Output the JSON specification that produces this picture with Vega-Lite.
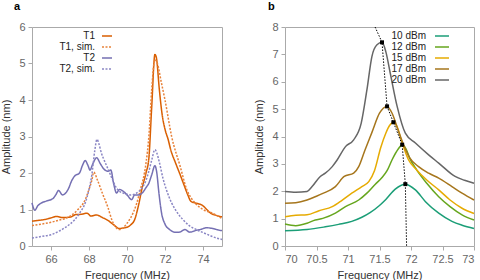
{
  "$schema": "https://vega.github.io/schema/vega-lite/v6.json",
  "padding": {"left": 0, "top": 0, "right": 0, "bottom": 0},
  "spacing": 27,
  "resolve": {"scale": {"color": "independent", "strokeDash": "independent"}, "legend": {"color": "independent", "strokeDash": "independent"}},
  "config": {
    "font": "Liberation Sans",
    "view": {"stroke": "#aaaaaa", "strokeWidth": 1},
    "axis": {"domain": false, "grid": false, "tickColor": "#aaaaaa", "tickSize": 4, "labelColor": "#666666", "labelFontSize": 11, "labelPadding": 3, "titleColor": "#333333", "titleFontSize": 11, "titleFontWeight": "normal", "labelOverlap": false},
    "axisY": {"titlePadding": 7},
    "axisX": {"titlePadding": 5},
    "title": {"fontSize": 11, "fontWeight": "bold", "anchor": "start", "frame": "group", "offset": 9, "color": "#000000"},
    "legend": {"orient": "none", "padding": 0, "rowPadding": 0, "labelAlign": "right", "labelFontSize": 10, "labelFontWeight": "normal", "labelColor": "#222222", "symbolStrokeWidth": 1.5, "title": null}
  },
  "hconcat": [
    {
      "width": 190,
      "height": 219,
      "title": {"text": "a", "dx": -18},
      "data": {"values": [
        {"s":"T1","f":65.0,"a":0.68},{"s":"T1","f":65.3,"a":0.70},{"s":"T1","f":65.6,"a":0.72},{"s":"T1","f":66.0,"a":0.77},{"s":"T1","f":66.3,"a":0.81},{"s":"T1","f":66.6,"a":0.78},{"s":"T1","f":67.0,"a":0.79},{"s":"T1","f":67.3,"a":0.86},{"s":"T1","f":67.6,"a":0.87},{"s":"T1","f":67.9,"a":0.90},{"s":"T1","f":68.1,"a":0.82},{"s":"T1","f":68.4,"a":0.85},{"s":"T1","f":68.7,"a":0.78},{"s":"T1","f":69.0,"a":0.70},{"s":"T1","f":69.3,"a":0.58},{"s":"T1","f":69.6,"a":0.48},{"s":"T1","f":69.9,"a":0.50},{"s":"T1","f":70.2,"a":0.58},{"s":"T1","f":70.4,"a":0.72},{"s":"T1","f":70.6,"a":1.10},{"s":"T1","f":70.8,"a":1.60},{"s":"T1","f":71.0,"a":2.00},{"s":"T1","f":71.15,"a":2.40},{"s":"T1","f":71.3,"a":3.80},{"s":"T1","f":71.47,"a":5.25},{"s":"T1","f":71.55,"a":5.15},{"s":"T1","f":71.7,"a":4.30},{"s":"T1","f":71.85,"a":3.60},{"s":"T1","f":72.0,"a":3.20},{"s":"T1","f":72.17,"a":2.91},{"s":"T1","f":72.3,"a":2.64},{"s":"T1","f":72.56,"a":2.27},{"s":"T1","f":72.8,"a":1.95},{"s":"T1","f":73.03,"a":1.63},{"s":"T1","f":73.2,"a":1.40},{"s":"T1","f":73.37,"a":1.22},{"s":"T1","f":73.6,"a":1.18},{"s":"T1","f":74.0,"a":1.10},{"s":"T1","f":74.2,"a":1.00},{"s":"T1","f":74.4,"a":0.90},{"s":"T1","f":74.7,"a":0.84},{"s":"T1","f":75.0,"a":0.80},
        {"s":"T1, sim.","f":65.0,"a":0.56},{"s":"T1, sim.","f":65.5,"a":0.60},{"s":"T1, sim.","f":66.0,"a":0.65},{"s":"T1, sim.","f":66.5,"a":0.72},{"s":"T1, sim.","f":66.8,"a":0.76},{"s":"T1, sim.","f":67.1,"a":0.85},{"s":"T1, sim.","f":67.4,"a":0.99},{"s":"T1, sim.","f":67.8,"a":1.27},{"s":"T1, sim.","f":68.0,"a":1.55},{"s":"T1, sim.","f":68.15,"a":1.80},{"s":"T1, sim.","f":68.25,"a":2.02},{"s":"T1, sim.","f":68.45,"a":1.80},{"s":"T1, sim.","f":68.7,"a":1.45},{"s":"T1, sim.","f":69.0,"a":1.05},{"s":"T1, sim.","f":69.2,"a":0.72},{"s":"T1, sim.","f":69.4,"a":0.52},{"s":"T1, sim.","f":69.6,"a":0.45},{"s":"T1, sim.","f":69.8,"a":0.50},{"s":"T1, sim.","f":70.0,"a":0.62},{"s":"T1, sim.","f":70.2,"a":0.78},{"s":"T1, sim.","f":70.5,"a":1.15},{"s":"T1, sim.","f":70.7,"a":1.54},{"s":"T1, sim.","f":71.0,"a":2.27},{"s":"T1, sim.","f":71.15,"a":3.00},{"s":"T1, sim.","f":71.3,"a":4.28},{"s":"T1, sim.","f":71.46,"a":5.10},{"s":"T1, sim.","f":71.6,"a":5.00},{"s":"T1, sim.","f":71.8,"a":4.50},{"s":"T1, sim.","f":72.0,"a":4.00},{"s":"T1, sim.","f":72.35,"a":3.00},{"s":"T1, sim.","f":72.8,"a":2.18},{"s":"T1, sim.","f":73.15,"a":1.54},{"s":"T1, sim.","f":73.4,"a":1.30},{"s":"T1, sim.","f":73.65,"a":1.14},{"s":"T1, sim.","f":74.0,"a":1.00},{"s":"T1, sim.","f":74.5,"a":0.90},{"s":"T1, sim.","f":75.0,"a":0.75},
        {"s":"T2","f":65.0,"a":1.18},{"s":"T2","f":65.15,"a":0.98},{"s":"T2","f":65.3,"a":1.10},{"s":"T2","f":65.5,"a":1.18},{"s":"T2","f":65.8,"a":1.24},{"s":"T2","f":66.1,"a":1.30},{"s":"T2","f":66.25,"a":1.40},{"s":"T2","f":66.4,"a":1.52},{"s":"T2","f":66.6,"a":1.40},{"s":"T2","f":66.9,"a":1.55},{"s":"T2","f":67.1,"a":1.80},{"s":"T2","f":67.25,"a":1.92},{"s":"T2","f":67.5,"a":2.00},{"s":"T2","f":67.65,"a":2.20},{"s":"T2","f":67.8,"a":2.34},{"s":"T2","f":67.95,"a":2.20},{"s":"T2","f":68.05,"a":2.08},{"s":"T2","f":68.2,"a":2.25},{"s":"T2","f":68.4,"a":2.42},{"s":"T2","f":68.6,"a":2.25},{"s":"T2","f":68.8,"a":2.10},{"s":"T2","f":69.0,"a":2.05},{"s":"T2","f":69.15,"a":2.08},{"s":"T2","f":69.3,"a":1.70},{"s":"T2","f":69.45,"a":1.45},{"s":"T2","f":69.6,"a":1.55},{"s":"T2","f":69.8,"a":1.50},{"s":"T2","f":70.0,"a":1.40},{"s":"T2","f":70.25,"a":1.27},{"s":"T2","f":70.4,"a":1.40},{"s":"T2","f":70.6,"a":1.40},{"s":"T2","f":70.8,"a":1.45},{"s":"T2","f":71.0,"a":1.60},{"s":"T2","f":71.15,"a":1.72},{"s":"T2","f":71.3,"a":1.95},{"s":"T2","f":71.47,"a":2.20},{"s":"T2","f":71.57,"a":2.00},{"s":"T2","f":71.67,"a":1.50},{"s":"T2","f":71.82,"a":0.90},{"s":"T2","f":72.0,"a":0.60},{"s":"T2","f":72.25,"a":0.45},{"s":"T2","f":72.5,"a":0.38},{"s":"T2","f":72.75,"a":0.38},{"s":"T2","f":73.05,"a":0.45},{"s":"T2","f":73.3,"a":0.38},{"s":"T2","f":73.65,"a":0.43},{"s":"T2","f":73.9,"a":0.46},{"s":"T2","f":74.2,"a":0.50},{"s":"T2","f":74.5,"a":0.48},{"s":"T2","f":74.8,"a":0.44},{"s":"T2","f":75.0,"a":0.42},
        {"s":"T2, sim.","f":65.0,"a":0.22},{"s":"T2, sim.","f":65.5,"a":0.26},{"s":"T2, sim.","f":66.0,"a":0.31},{"s":"T2, sim.","f":66.4,"a":0.40},{"s":"T2, sim.","f":66.7,"a":0.49},{"s":"T2, sim.","f":67.0,"a":0.60},{"s":"T2, sim.","f":67.25,"a":0.72},{"s":"T2, sim.","f":67.5,"a":0.90},{"s":"T2, sim.","f":67.8,"a":1.18},{"s":"T2, sim.","f":68.0,"a":1.55},{"s":"T2, sim.","f":68.15,"a":1.95},{"s":"T2, sim.","f":68.3,"a":2.60},{"s":"T2, sim.","f":68.42,"a":2.92},{"s":"T2, sim.","f":68.52,"a":2.80},{"s":"T2, sim.","f":68.65,"a":2.55},{"s":"T2, sim.","f":68.8,"a":2.35},{"s":"T2, sim.","f":69.05,"a":2.05},{"s":"T2, sim.","f":69.25,"a":1.80},{"s":"T2, sim.","f":69.4,"a":1.63},{"s":"T2, sim.","f":69.6,"a":1.50},{"s":"T2, sim.","f":69.8,"a":1.45},{"s":"T2, sim.","f":70.0,"a":1.42},{"s":"T2, sim.","f":70.2,"a":1.40},{"s":"T2, sim.","f":70.5,"a":1.45},{"s":"T2, sim.","f":70.8,"a":1.60},{"s":"T2, sim.","f":71.0,"a":1.80},{"s":"T2, sim.","f":71.15,"a":2.05},{"s":"T2, sim.","f":71.3,"a":2.35},{"s":"T2, sim.","f":71.47,"a":2.64},{"s":"T2, sim.","f":71.57,"a":2.55},{"s":"T2, sim.","f":71.7,"a":2.30},{"s":"T2, sim.","f":71.9,"a":1.84},{"s":"T2, sim.","f":72.1,"a":1.50},{"s":"T2, sim.","f":72.35,"a":1.18},{"s":"T2, sim.","f":72.6,"a":0.95},{"s":"T2, sim.","f":72.95,"a":0.72},{"s":"T2, sim.","f":73.3,"a":0.55},{"s":"T2, sim.","f":73.65,"a":0.45},{"s":"T2, sim.","f":74.0,"a":0.37},{"s":"T2, sim.","f":74.3,"a":0.30},{"s":"T2, sim.","f":74.7,"a":0.22},{"s":"T2, sim.","f":75.0,"a":0.18}
      ]},
      "mark": {"type": "line", "interpolate": "monotone", "strokeWidth": 1.5},
      "encoding": {
        "x": {"field": "f", "type": "quantitative", "title": "Frequency (MHz)", "scale": {"domain": [65, 75], "nice": false, "zero": false}, "axis": {"values": [66, 68, 70, 72, 74]}},
        "y": {"field": "a", "type": "quantitative", "title": "Amplitude (nm)", "scale": {"domain": [0, 6], "nice": false}, "axis": {"values": [0, 1, 2, 3, 4, 5, 6]}},
        "color": {"field": "s", "type": "nominal", "sort": null, "scale": {"domain": ["T1", "T1, sim.", "T2", "T2, sim."], "range": ["#d95f02", "#e8823a", "#7570b3", "#8a86c4"]}, "legend": {"legendX": 69, "legendY": 3, "symbolType": "stroke", "symbolSize": 100, "labelOffset": -18}},
        "strokeDash": {"field": "s", "type": "nominal", "sort": null, "scale": {"domain": ["T1", "T1, sim.", "T2", "T2, sim."], "range": [[1, 0], [2, 1.5], [1, 0], [2, 1.5]]}, "legend": {"legendX": 69, "legendY": 3, "symbolType": "stroke", "symbolSize": 100, "labelOffset": -18}}
      }
    },
    {
      "width": 189,
      "height": 219,
      "title": {"text": "b", "dx": -17},
      "encoding": {
        "x": {"field": "f", "type": "quantitative", "title": "Frequency (MHz)", "scale": {"domain": [70, 73], "nice": false, "zero": false}, "axis": {"values": [70, 70.5, 71, 71.5, 72, 72.5, 73], "format": "~f"}},
        "y": {"field": "a", "type": "quantitative", "title": "Amplitude (nm)", "scale": {"domain": [0, 8], "nice": false}, "axis": {"values": [0, 1, 2, 3, 4, 5, 6, 7, 8]}}
      },
      "layer": [
        {
          "data": {"values": [
            {"p":"10 dBm","f":70.0,"a":0.56},{"p":"10 dBm","f":70.35,"a":0.60},{"p":"10 dBm","f":70.64,"a":0.70},{"p":"10 dBm","f":70.85,"a":0.79},{"p":"10 dBm","f":71.06,"a":0.90},{"p":"10 dBm","f":71.22,"a":1.05},{"p":"10 dBm","f":71.35,"a":1.22},{"p":"10 dBm","f":71.5,"a":1.48},{"p":"10 dBm","f":71.6,"a":1.70},{"p":"10 dBm","f":71.75,"a":2.08},{"p":"10 dBm","f":71.91,"a":2.26},{"p":"10 dBm","f":72.07,"a":2.05},{"p":"10 dBm","f":72.23,"a":1.62},{"p":"10 dBm","f":72.44,"a":1.20},{"p":"10 dBm","f":72.65,"a":0.90},{"p":"10 dBm","f":72.81,"a":0.76},{"p":"10 dBm","f":73.0,"a":0.64},
            {"p":"12 dBm","f":70.0,"a":0.80},{"p":"12 dBm","f":70.17,"a":0.74},{"p":"12 dBm","f":70.35,"a":0.83},{"p":"12 dBm","f":70.48,"a":0.95},{"p":"12 dBm","f":70.6,"a":1.01},{"p":"12 dBm","f":70.8,"a":1.20},{"p":"12 dBm","f":70.96,"a":1.44},{"p":"12 dBm","f":71.17,"a":1.68},{"p":"12 dBm","f":71.3,"a":1.93},{"p":"12 dBm","f":71.43,"a":2.25},{"p":"12 dBm","f":71.54,"a":2.50},{"p":"12 dBm","f":71.62,"a":2.75},{"p":"12 dBm","f":71.7,"a":3.15},{"p":"12 dBm","f":71.8,"a":3.55},{"p":"12 dBm","f":71.86,"a":3.70},{"p":"12 dBm","f":71.92,"a":3.55},{"p":"12 dBm","f":71.98,"a":3.20},{"p":"12 dBm","f":72.09,"a":2.78},{"p":"12 dBm","f":72.25,"a":2.29},{"p":"12 dBm","f":72.44,"a":1.80},{"p":"12 dBm","f":72.62,"a":1.44},{"p":"12 dBm","f":72.81,"a":1.14},{"p":"12 dBm","f":73.0,"a":0.95},
            {"p":"15 dBm","f":70.0,"a":1.07},{"p":"15 dBm","f":70.17,"a":1.12},{"p":"15 dBm","f":70.35,"a":1.14},{"p":"15 dBm","f":70.54,"a":1.29},{"p":"15 dBm","f":70.75,"a":1.44},{"p":"15 dBm","f":70.91,"a":1.68},{"p":"15 dBm","f":71.06,"a":1.93},{"p":"15 dBm","f":71.22,"a":2.17},{"p":"15 dBm","f":71.33,"a":2.35},{"p":"15 dBm","f":71.42,"a":2.75},{"p":"15 dBm","f":71.52,"a":3.60},{"p":"15 dBm","f":71.6,"a":4.12},{"p":"15 dBm","f":71.66,"a":4.40},{"p":"15 dBm","f":71.72,"a":4.52},{"p":"15 dBm","f":71.78,"a":4.35},{"p":"15 dBm","f":71.86,"a":3.76},{"p":"15 dBm","f":71.96,"a":3.15},{"p":"15 dBm","f":72.09,"a":2.78},{"p":"15 dBm","f":72.25,"a":2.41},{"p":"15 dBm","f":72.44,"a":2.05},{"p":"15 dBm","f":72.62,"a":1.68},{"p":"15 dBm","f":72.81,"a":1.38},{"p":"15 dBm","f":73.0,"a":1.19},
            {"p":"17 dBm","f":70.0,"a":1.56},{"p":"17 dBm","f":70.17,"a":1.58},{"p":"17 dBm","f":70.35,"a":1.68},{"p":"17 dBm","f":70.48,"a":1.80},{"p":"17 dBm","f":70.61,"a":1.93},{"p":"17 dBm","f":70.8,"a":2.17},{"p":"17 dBm","f":70.94,"a":2.54},{"p":"17 dBm","f":71.09,"a":2.66},{"p":"17 dBm","f":71.17,"a":2.90},{"p":"17 dBm","f":71.27,"a":3.51},{"p":"17 dBm","f":71.38,"a":4.15},{"p":"17 dBm","f":71.5,"a":4.85},{"p":"17 dBm","f":71.62,"a":5.10},{"p":"17 dBm","f":71.7,"a":4.85},{"p":"17 dBm","f":71.8,"a":4.20},{"p":"17 dBm","f":71.9,"a":3.60},{"p":"17 dBm","f":71.98,"a":3.22},{"p":"17 dBm","f":72.12,"a":2.90},{"p":"17 dBm","f":72.28,"a":2.66},{"p":"17 dBm","f":72.44,"a":2.48},{"p":"17 dBm","f":72.65,"a":2.17},{"p":"17 dBm","f":72.81,"a":1.93},{"p":"17 dBm","f":73.0,"a":1.68},
            {"p":"20 dBm","f":70.0,"a":1.99},{"p":"20 dBm","f":70.17,"a":1.96},{"p":"20 dBm","f":70.35,"a":1.99},{"p":"20 dBm","f":70.43,"a":2.17},{"p":"20 dBm","f":70.56,"a":2.54},{"p":"20 dBm","f":70.64,"a":2.66},{"p":"20 dBm","f":70.75,"a":2.90},{"p":"20 dBm","f":70.83,"a":3.15},{"p":"20 dBm","f":70.96,"a":3.63},{"p":"20 dBm","f":71.09,"a":3.88},{"p":"20 dBm","f":71.21,"a":4.49},{"p":"20 dBm","f":71.3,"a":5.70},{"p":"20 dBm","f":71.38,"a":6.93},{"p":"20 dBm","f":71.46,"a":7.35},{"p":"20 dBm","f":71.54,"a":7.44},{"p":"20 dBm","f":71.6,"a":7.10},{"p":"20 dBm","f":71.67,"a":6.32},{"p":"20 dBm","f":71.78,"a":5.10},{"p":"20 dBm","f":71.91,"a":4.12},{"p":"20 dBm","f":72.07,"a":3.76},{"p":"20 dBm","f":72.28,"a":3.33},{"p":"20 dBm","f":72.44,"a":3.03},{"p":"20 dBm","f":72.7,"a":2.54},{"p":"20 dBm","f":72.85,"a":2.40},{"p":"20 dBm","f":73.0,"a":2.29}
          ]},
          "mark": {"type": "line", "interpolate": "monotone", "strokeWidth": 1.5},
          "encoding": {
            "color": {"field": "p", "type": "nominal", "scale": {"domain": ["10 dBm", "12 dBm", "15 dBm", "17 dBm", "20 dBm"], "range": ["#1b9e77", "#66a61e", "#e6ab02", "#a6761d", "#666666"]}, "legend": {"legendX": 151, "legendY": 3, "symbolType": "M-1.4,0H1.4", "symbolSize": 100, "labelOffset": -22}}
          }
        },
        {
          "data": {"values": [
            {"f":71.43,"a":8.0},{"f":71.54,"a":7.44},{"f":71.62,"a":5.10},{"f":71.72,"a":4.52},{"f":71.86,"a":3.70},{"f":71.91,"a":2.26},{"f":71.93,"a":0.0}
          ]},
          "mark": {"type": "line", "color": "#000000", "strokeWidth": 1, "strokeDash": [1.5, 1.5], "clip": true}
        },
        {
          "data": {"values": [
            {"f":71.54,"a":7.44},{"f":71.62,"a":5.10},{"f":71.72,"a":4.52},{"f":71.86,"a":3.70},{"f":71.91,"a":2.26}
          ]},
          "mark": {"type": "point", "shape": "square", "filled": true, "color": "#000000", "size": 16, "opacity": 1}
        }
      ]
    }
  ]
}
